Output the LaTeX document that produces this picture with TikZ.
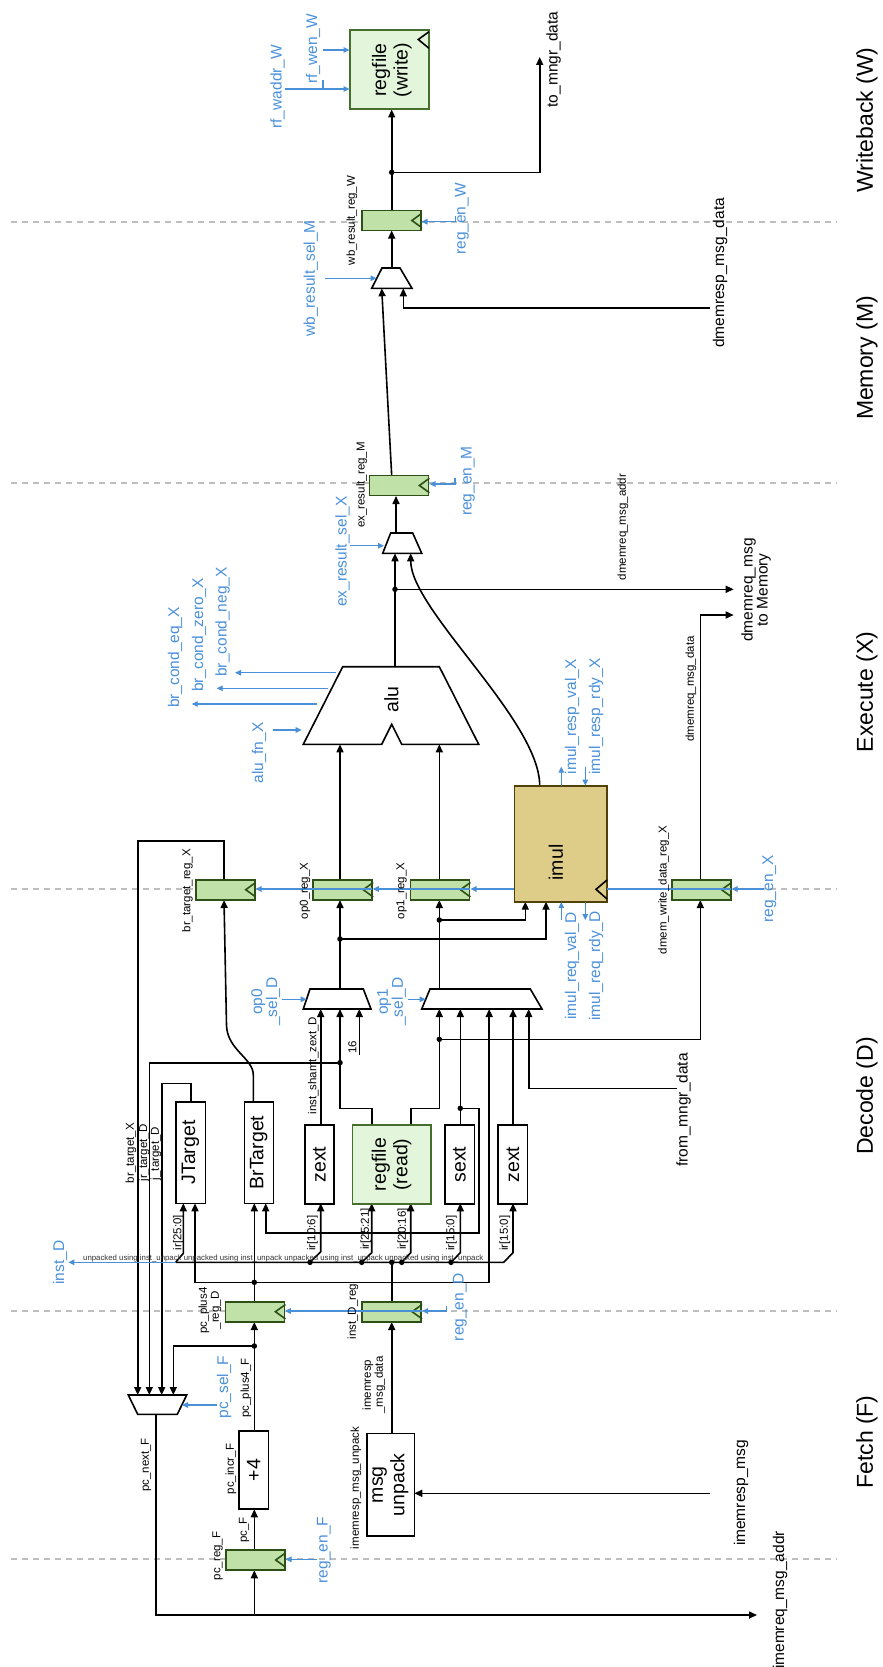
\documentclass[tikz,border=0pt]{standalone}
\usepackage{fontspec}
\setmainfont{Liberation Sans}
\usetikzlibrary{arrows.meta,calc}
\definecolor{myblue}{RGB}{74,144,217}
\definecolor{regfill}{RGB}{192,226,168}
\definecolor{regdraw}{RGB}{45,80,22}
\definecolor{rffill}{RGB}{227,245,218}
\definecolor{rfdraw}{RGB}{70,110,45}
\definecolor{imulfill}{RGB}{222,205,137}
\definecolor{imuldraw}{RGB}{80,64,10}
\definecolor{stagegray}{RGB}{190,190,190}
\newcommand\fontSm{\fontsize{11.5pt}{12pt}\selectfont}
\newcommand\fontMd{\fontsize{15.5pt}{15pt}\selectfont}
\newcommand\fontBk{\fontsize{19.5pt}{21.5pt}\selectfont}
\newcommand\fontSt{\fontsize{23pt}{27pt}\selectfont}
\newcommand\fontTn{\fontsize{7.8pt}{9pt}\selectfont}
\tikzset{
 wire/.style={line width=1.6pt},
 arr/.style={wire,-{Triangle[length=8pt,width=7pt]}},
 bwire/.style={draw=myblue,line width=1.2pt},
 barr/.style={bwire,-{Triangle[length=6pt,width=5.5pt]}},
 lab/.style={rotate=90,inner sep=0pt,align=center},
 slab/.style={lab,font=\fontSm},
 blab/.style={lab,font=\fontMd,text=myblue},
 mlab/.style={lab,font=\fontMd},
 klab/.style={lab,font=\fontBk},
 pipereg/.style={draw=regdraw,fill=regfill,line width=1.8pt,minimum width=59pt,minimum height=20pt,inner sep=0pt},
 blk/.style={draw,fill=white,line width=1.6pt,inner sep=0pt},
 jdot/.style={circle,fill,inner sep=0pt,minimum size=5.5pt},
 stageline/.style={draw=stagegray,line width=1.4pt,dash pattern=on 6pt off 5pt},
 muxshape/.style={draw,fill=white,line width=1.6pt,line join=miter},
}
\newcommand\clk[1]{\draw[draw=regdraw,line width=1.6pt] ($(#1.east)+(0,-7.2)$) -- ($(#1.east)+(-10,0)$) -- ($(#1.east)+(0,7.2)$);}
\begin{document}
\begin{tikzpicture}[x=1pt,y=-1pt]
\useasboundingbox (0,0) rectangle (883,1667);
% stage dividers
\foreach \yy in {222,483,889,1311,1559}{\draw[stageline] (11,\yy) -- (837,\yy);}
\node[lab,font=\fontSt] (stW) at (867,120) {Writeback (W)};
\node[lab,font=\fontSt] (stM) at (867,358) {Memory (M)};
\node[lab,font=\fontSt] (stX) at (867,692) {Execute (X)};
\node[lab,font=\fontSt] (stD) at (867,1096) {Decode (D)};
\node[lab,font=\fontSt] (stF) at (867,1442) {Fetch (F)};

% ---------- black wires ----------
% writeback
\coordinate (jw) at (391.7,172.3);
\draw[arr] (391.7,210) -- (391.7,109.5);
\draw[arr] (jw) -- (539.7,172.3) -- (539.7,57);
\draw[arr] (391.7,268) -- (391.7,230.5);
\draw[arr] (391.7,475.7) -- (381.7,288.3);
\draw[arr] (710,307.7) -- (403.3,307.7) -- (403.3,288.3);
% execute / memory
\coordinate (jx) at (395,589.3);
\draw[arr] (396,533) -- (396,496);
\draw[arr] (395,666.7) -- (395,553.3);
\draw[arr] (jx) -- (733.7,589.3);
\draw[arr] (539.7,785.7) .. controls (539.7,720) and (410.7,610) .. (410.7,553.3);
\draw[arr] (700.3,879.5) -- (700.3,615) -- (733.7,615);
\draw[arr] (340,879.5) -- (340,744.3);
\draw[arr] (439.3,879.5) -- (439.3,744.3);
\draw[arr] (224,879.5) -- (224,841) -- (137.7,841) -- (137.7,1395);
% decode
\coordinate (j0) at (340,939);
\coordinate (j1) at (439.3,920);
\coordinate (j2) at (439.3,1039.3);
\coordinate (j3) at (340,1062.7);
\coordinate (j4) at (460.3,1108.3);
\coordinate (j5) at (254.3,1282.3);
\coordinate (j6) at (254.3,1346);
\draw[arr] (340,989) -- (340,900);
\draw[arr] (j0) -- (546,939) -- (546,901.7);
\draw[arr] (439.3,989) -- (439.3,900);
\draw[arr] (j1) -- (525.3,920) -- (525.3,901.7);
\draw[arr] (410.7,1125) -- (410.7,1108.3) -- (439.3,1108.3) -- (439.3,1009);
\draw[arr] (j2) -- (700.3,1039.3) -- (700.3,900);
\draw[arr] (371.7,1125) -- (371.7,1108.3) -- (340,1108.3) -- (340,1009);
\draw[arr] (j3) -- (149.3,1062.7) -- (149.3,1395);
\draw[arr] (320.7,1125) -- (320.7,1009);
\draw[arr] (359.3,1055) -- (359.3,1009);
\draw[arr] (460.3,1125) -- (460.3,1009);
\draw[arr] (j4) -- (478.7,1108.3) -- (478.7,1232.7) -- (265.7,1232.7) -- (265.7,1203.3);
\draw[arr] (j5) -- (489.2,1282.3) -- (489.2,1009);
\draw[arr] (j5) -- (195,1282.3) -- (195,1203.3);
\draw[arr] (513,1125) -- (513,1009);
\draw[arr] (677,1088.3) -- (528.7,1088.3) -- (528.7,1009);
\draw[arr] (254.3,1301.5) -- (254.3,1203.3);
\draw[arr] (190.7,1101.7) -- (190.7,1083.3) -- (161.7,1083.3) -- (161.7,1395);
\draw[arr] (253.3,1101.7) -- (253.3,1075) .. controls (253.3,1058) and (227,1050) .. (226.5,1025) -- (224,900);
% instruction bus
\draw[wire] (391.7,1301.5) -- (391.7,1262.3);
\draw[arr] (175.7,1262.3) -- (503.7,1262.3) -- (513,1252.7) -- (513,1203.3);
\draw[arr] (175.7,1262.3) -- (183.3,1253.3) -- (183.3,1203.3);
\draw[arr] (310,1262.3) -- (320.7,1251.7) -- (320.7,1203.3);
\draw[arr] (361.7,1262.3) -- (371.7,1252.7) -- (371.7,1203.3);
\draw[arr] (401.7,1262.3) -- (410.7,1252.7) -- (410.7,1203.3);
\draw[arr] (451,1262.3) -- (460.3,1252.7) -- (460.3,1203.3);
\draw[barr] (175.7,1262.3) -- (68.3,1262.3);
% fetch
\draw[arr] (254.3,1431) -- (254.3,1322);
\draw[arr] (j6) -- (173.3,1346) -- (173.3,1395);
\draw[arr] (156,1414.3) -- (156,1615) -- (757,1615);
\draw[arr] (254.3,1615) -- (254.3,1570.3);
\draw[arr] (254.3,1550) -- (254.3,1509.3);
\draw[arr] (391.7,1433.3) -- (391.7,1322);
\draw[arr] (709.7,1493.3) -- (414.3,1493.3);

% junction dots
\foreach \p in {jw,jx,j0,j1,j2,j3,j4,j5,j6}{\node[jdot] at (\p) {};}
\foreach \xx in {310,361.7,391.7,401.7,451}{\node[jdot] at (\xx,1262.3) {};}

% ---------- muxes and alu ----------
\draw[muxshape] (382,268) -- (400,268) -- (412,288.3) -- (371.7,288.3) -- cycle;
\draw[muxshape] (390.7,533) -- (412.7,533) -- (421.7,553.3) -- (382.7,553.3) -- cycle;
\draw[muxshape] (310,989) -- (363.3,989) -- (371,1009) -- (303.3,1009) -- cycle;
\draw[muxshape] (430,989) -- (530.3,989) -- (542,1009) -- (421.7,1009) -- cycle;
\draw[muxshape] (128.3,1395) -- (186.7,1395) -- (177.3,1414.3) -- (137.7,1414.3) -- cycle;
\draw[muxshape] (342.7,666.7) -- (439.3,666.7) -- (478.7,744.3) -- (401.7,744.3) -- (391.7,724.3) -- (381.7,744.3) -- (303.3,744.3) -- cycle;
\node[klab] (alu) at (391.5,699.5) {alu};

% ---------- blocks ----------
\node[blk,draw=rfdraw,fill=rffill,minimum width=79pt,minimum height=79pt] (rfW) at (389.5,69.5) {};
\node[klab] at (391.7,70) {regfile\\(write)};
\draw[line width=1.6pt] (429,31.7) -- (418.3,39.5) -- (429,48.3);
\node[blk,draw=imuldraw,fill=imulfill,minimum width=92.7pt,minimum height=116pt] (imul) at (560.7,843.7) {};
\node[klab] at (556,862.5) {imul};
\draw[line width=1.6pt] (607,880) -- (596,889.3) -- (607,899);
\node[blk,minimum width=29.6pt,minimum height=101.6pt] (jt) at (190.5,1152.5) {};
\node[klab] at (jt) {JTarget};
\node[blk,minimum width=29pt,minimum height=101.6pt] (bt) at (258.8,1152.5) {};
\node[klab] at (bt) {BrTarget};
\node[blk,minimum width=29pt,minimum height=79pt] (zx1) at (319.5,1164.5) {};
\node[klab] at (zx1) {zext};
\node[blk,draw=rfdraw,fill=rffill,minimum width=78.4pt,minimum height=79pt] (rfR) at (391.5,1164.5) {};
\node[klab] at (rfR) {regfile\\(read)};
\node[blk,minimum width=29.6pt,minimum height=79pt] (sx) at (459.5,1164.5) {};
\node[klab] at (sx) {sext};
\node[blk,minimum width=29.6pt,minimum height=79pt] (zx2) at (512.8,1164.5) {};
\node[klab] at (zx2) {zext};
\node[blk,minimum width=29.3pt,minimum height=78.3pt] (p4) at (253.7,1470) {};
\node[klab] at (p4) {+4};
\node[blk,minimum width=47.6pt,minimum height=102.7pt] (unp) at (390.5,1484.7) {};
\node[klab] at (unp) {msg\\unpack};

% ---------- pipeline registers ----------
\node[pipereg] (wbreg) at (391.5,220.5) {}; \clk{wbreg}
\node[pipereg] (exreg) at (399,485.5) {}; \clk{exreg}
\node[pipereg] (brreg) at (225.3,889.7) {}; \clk{brreg}
\node[pipereg] (op0reg) at (342.8,889.7) {}; \clk{op0reg}
\node[pipereg] (op1reg) at (440,889.7) {}; \clk{op1reg}
\node[pipereg] (dmreg) at (701.2,889.7) {}; \clk{dmreg}
\node[pipereg] (pc4reg) at (255,1311.7) {}; \clk{pc4reg}
\node[pipereg] (instreg) at (391.7,1311.7) {}; \clk{instreg}
\node[pipereg] (pcreg) at (255.3,1560) {}; \clk{pcreg}

% ---------- blue control wires ----------
\draw[barr] (323,50) -- (349.5,50);
\draw[bwire] (323,80) -- (323,89);
\draw[barr] (285,89) -- (349.5,89);
\draw[barr] (325,278.3) -- (376.5,278.3);
\draw[barr] (455.3,216) -- (455.3,221.7) -- (421.5,221.7);
\draw[barr] (455,477.5) -- (455,484) -- (429.5,484);
\draw[barr] (350,545.7) -- (384,545.7);
\draw[barr] (273.3,730) -- (301.7,730);
\draw[barr] (336,672.7) -- (235,672.7);
\draw[barr] (328.3,688.3) -- (216.7,688.3);
\draw[barr] (316.7,704) -- (191.7,704);
\draw[barr] (561.3,785.7) -- (561.3,766.7);
\draw[barr] (585.3,766.7) -- (585.3,785.7);
\draw[barr] (561.3,920) -- (561.3,902);
\draw[barr] (585.3,902) -- (585.3,920);
\draw[barr] (763.7,889) -- (731.5,889);
\draw[bwire] (731,889) -- (607,889);
\draw[barr] (514.3,889) -- (470.5,889);
\draw[barr] (470,889) -- (372.8,889);
\draw[barr] (372.3,889) -- (255.5,889);
\draw[barr] (281.7,999.3) -- (306.6,999.3);
\draw[barr] (408.3,999.3) -- (425.6,999.3);
\draw[barr] (446.3,1306) -- (446.3,1311) -- (422,1311);
\draw[barr] (421.7,1311) -- (284.8,1311);
\draw[barr] (216.7,1405) -- (182,1405);
\draw[barr] (316.7,1559.3) -- (285.5,1559.3);

% ---------- labels ----------
\node[slab] at (352,220.5) {wb\_result\_reg\_W};
\node[slab] at (361.7,485) {ex\_result\_reg\_M};
\node[slab] at (623,527) {dmemreq\_msg\_addr};
\node[slab] at (691,689) {dmemreq\_msg\_data};
\node[slab] at (187.5,890.8) {br\_target\_reg\_X};
\node[slab] at (305,891) {op0\_reg\_X};
\node[slab] at (401.7,891) {op1\_reg\_X};
\node[slab] at (663.7,890) {dmem\_write\_data\_reg\_X};
\node[slab] at (313.3,1065.6) {inst\_shamt\_zext\_D};
\node[slab] at (352.5,1047.5) {16};
\node[slab] at (130.8,1153) {br\_target\_X};
\node[slab] at (144.2,1153) {jr\_target\_D};
\node[slab] at (155.8,1153.5) {j\_target\_D};
\node[slab] at (178.5,1232.5) {ir[25:0]};
\node[slab] at (312.5,1233) {ir[10:6]};
\node[slab] at (366,1229) {ir[25:21]};
\node[slab] at (402.8,1229) {ir[20:16]};
\node[slab] at (451.5,1233) {ir[15:0]};
\node[slab] at (504.8,1233) {ir[15:0]};
\node[slab] at (210,1310.5) {pc\_plus4\\\_reg\_D};
\node[slab] at (353,1311.7) {inst\_D\_reg};
\node[slab] at (374,1385) {imemresp\\\_msg\_data};
\node[slab] at (246,1388) {pc\_plus4\_F};
\node[slab] at (146,1465) {pc\_next\_F};
\node[slab] at (231,1469) {pc\_incr\_F};
\node[slab] at (244,1530) {pc\_F};
\node[slab] at (217.5,1556) {pc\_reg\_F};
\node[slab] at (356,1488) {imemresp\_msg\_unpack};
\node[font=\fontTn,text=black!80,anchor=base west,inner sep=0pt] at (83,1260) {unpacked using inst\_unpack unpacked using inst\_unpack unpacked using inst\_unpack unpacked using inst\_unpack};

\node[mlab] at (553.7,59.5) {to\_mngr\_data};
\node[mlab] at (720,273) {dmemresp\_msg\_data};
\node[mlab] at (756,590) {dmemreq\_msg\\to Memory};
\node[mlab] at (683.5,1110) {from\_mngr\_data};
\node[mlab] at (741,1493) {imemresp\_msg};
\node[mlab] at (780,1600) {imemreq\_msg\_addr};

\node[blab] at (277.5,86.7) {rf\_waddr\_W};
\node[blab] at (313,49) {rf\_wen\_W};
\node[blab] at (310.8,278.5) {wb\_result\_sel\_M};
\node[blab] at (462,219) {reg\_en\_W};
\node[blab] at (468,481) {reg\_en\_M};
\node[blab] at (342.5,551.7) {ex\_result\_sel\_X};
\node[blab] at (175,657.5) {br\_cond\_eq\_X};
\node[blab] at (199,635) {br\_cond\_zero\_X};
\node[blab] at (222.5,622) {br\_cond\_neg\_X};
\node[blab] at (259,753) {alu\_fn\_X};
\node[blab] at (572,716.7) {imul\_resp\_val\_X};
\node[blab] at (596,716.7) {imul\_resp\_rdy\_X};
\node[blab] at (572,966) {imul\_req\_val\_D};
\node[blab] at (596,966) {imul\_req\_rdy\_D};
\node[blab] at (769.5,889) {reg\_en\_X};
\node[blab] at (265.7,1001.7) {op0\\\_sel\_D};
\node[blab] at (391.7,1001.7) {op1\\\_sel\_D};
\node[blab] at (60,1262.5) {inst\_D};
\node[blab] at (460,1307) {reg\_en\_D};
\node[blab] at (224,1387) {pc\_sel\_F};
\node[blab] at (324,1550) {reg\_en\_F};
\end{tikzpicture}
\end{document}
